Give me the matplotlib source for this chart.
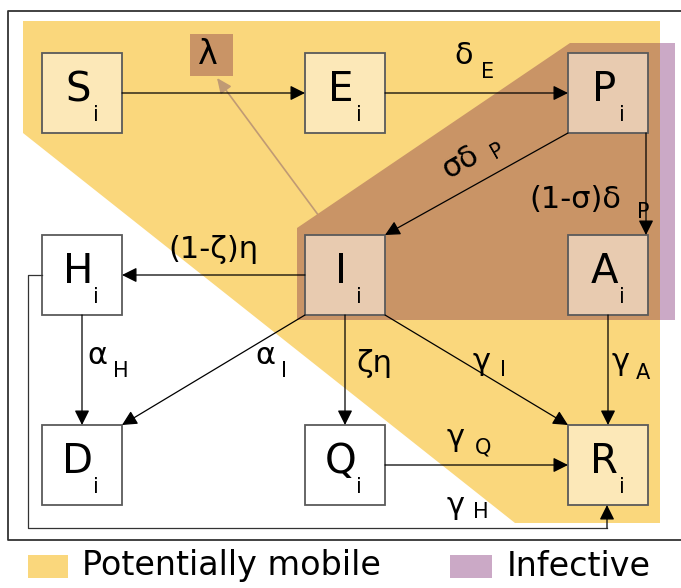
import matplotlib
matplotlib.use('Agg')
import matplotlib.pyplot as plt
from matplotlib.patches import Polygon, Rectangle

plt.rcParams['font.family'] = ['DejaVu Sans']

# compartments
nodes = ['S', 'E', 'P', 'I', 'A', 'H', 'D', 'Q', 'R']
node_x = [82, 345, 608, 345, 608, 82, 82, 345, 608]
node_y = [93, 93, 93, 275, 275, 275, 465, 465, 465]
node_fill = ['#fce8b8', '#fce8b8', '#e8cbb0', '#e8cbb0', '#e8cbb0',
             'white', 'white', 'white', '#fce8b8']

# transitions between compartments
edge_from = ['S', 'E', 'P', 'P', 'I', 'H', 'I', 'I', 'I', 'A', 'Q']
edge_to = ['E', 'P', 'I', 'A', 'H', 'D', 'D', 'Q', 'R', 'R', 'R']

# rate labels: text, subscript
rate_text = ['δ', 'σδ', '(1-σ)δ', '(1-ζ)η', 'α', 'α', 'ζη', 'γ', 'γ', 'γ', 'γ']
rate_sub = ['E', 'P', 'P', '', 'H', 'I', '', 'I', 'A', 'Q', 'H']
rate_xy = [(464, 56), (460, 162), (575, 199), (213, 250), (97, 356), (265, 356),
           (374, 364), (482, 362), (621, 362), (456, 437), (456, 505)]
sub_xy = [(488, 72), (497, 151), (643, 212), None, (121, 371), (284, 371),
          None, (503, 370), (643, 373), (483, 447), (481, 512)]

legend_labels = ['Potentially mobile', 'Infective']
yellow = '#fad77c'
brown = '#c99466'
purple = '#cba9c6'

half = 40

fig = plt.figure(figsize=(6.81, 5.88), dpi=100)
ax = fig.add_axes([0, 0, 1, 1])
ax.set_xlim(0, 681)
ax.set_ylim(588, 0)
ax.axis('off')

# outer frame
ax.plot([684, 8, 8, 684], [11, 11, 540, 540], color='#333333', lw=1.3)

# shaded regions
ax.add_patch(Polygon([(23, 21), (660, 21), (660, 523), (515, 523), (23, 133)],
                     closed=True, fc=yellow, ec='none', zorder=1))
ax.add_patch(Polygon([(297, 228), (570, 43), (660, 43), (660, 320), (297, 320)],
                     closed=True, fc=brown, ec='none', zorder=2))
ax.add_patch(Rectangle((660, 43), 15, 277, fc=purple, ec='none', zorder=2))

# lambda box
ax.add_patch(Rectangle((190, 34), 43, 42, fc=brown, ec='none', zorder=2))
ax.text(208, 54, 'λ', fontsize=24, ha='center', va='center', zorder=5)

pos = {n: (x, y) for n, x, y in zip(nodes, node_x, node_y)}

for n, x, y, fc in zip(nodes, node_x, node_y, node_fill):
    ax.add_patch(Rectangle((x - half, y - half), 2 * half, 2 * half, fc=fc,
                           ec='#5a5a5a', lw=1.3, zorder=3))
    ax.text(x - 4, y - 3, n, fontsize=29, ha='center', va='center', zorder=5)
    ax.text(x + 14, y + 22, 'i', fontsize=15, ha='center', va='center', zorder=5)


def anchor(a, b):
    (xa, ya), (xb, yb) = pos[a], pos[b]
    dx = (xb > xa) - (xb < xa)
    dy = (yb > ya) - (yb < ya)
    p0 = (xa + dx * half, ya + dy * half)
    p1 = (xb - dx * half, yb - dy * half)
    if (a, b) == ('P', 'A'):
        p0, p1 = (xa + half - 2, ya + half), (xb + half - 2, yb - half)
    return p0, p1


arrow = dict(arrowstyle='-|>,head_length=0.9,head_width=0.45', color='black',
             lw=0.9, shrinkA=0, shrinkB=0)
for a, b in zip(edge_from, edge_to):
    p0, p1 = anchor(a, b)
    ax.annotate('', xy=p1, xytext=p0, arrowprops=arrow, zorder=4)

for lab, sub, (x, y), s in zip(rate_text, rate_sub, rate_xy, sub_xy):
    rot = 30 if lab == 'σδ' else 0
    ax.text(x, y, lab, fontsize=22, ha='center', va='center', rotation=rot,
            zorder=5)
    if sub:
        ax.text(s[0], s[1], sub, fontsize=15, ha='center', va='center',
                rotation=rot, zorder=5)

# I -> lambda (force of infection), hidden under the infective area
ax.annotate('', xy=(217, 78), xytext=(333, 235),
            arrowprops=dict(arrowstyle='-|>,head_length=0.9,head_width=0.4',
                            color='#c09a74', lw=1.2, shrinkA=0, shrinkB=0),
            zorder=1.5)

# H -> R around the bottom
ax.plot([42, 28, 28, 607], [275, 275, 528, 528], color='#333333', lw=0.9, zorder=4)
ax.annotate('', xy=(607, 505), xytext=(607, 528), arrowprops=arrow, zorder=4)

# legend
ax.add_patch(Rectangle((28, 555), 40, 23, fc=yellow, ec='none'))
ax.text(82, 566, legend_labels[0], fontsize=24, ha='left', va='center')
ax.add_patch(Rectangle((450, 555), 42, 23, fc=purple, ec='none'))
ax.text(507, 566, legend_labels[1], fontsize=24, ha='left', va='center')

fig.savefig('out.png', dpi=100)
